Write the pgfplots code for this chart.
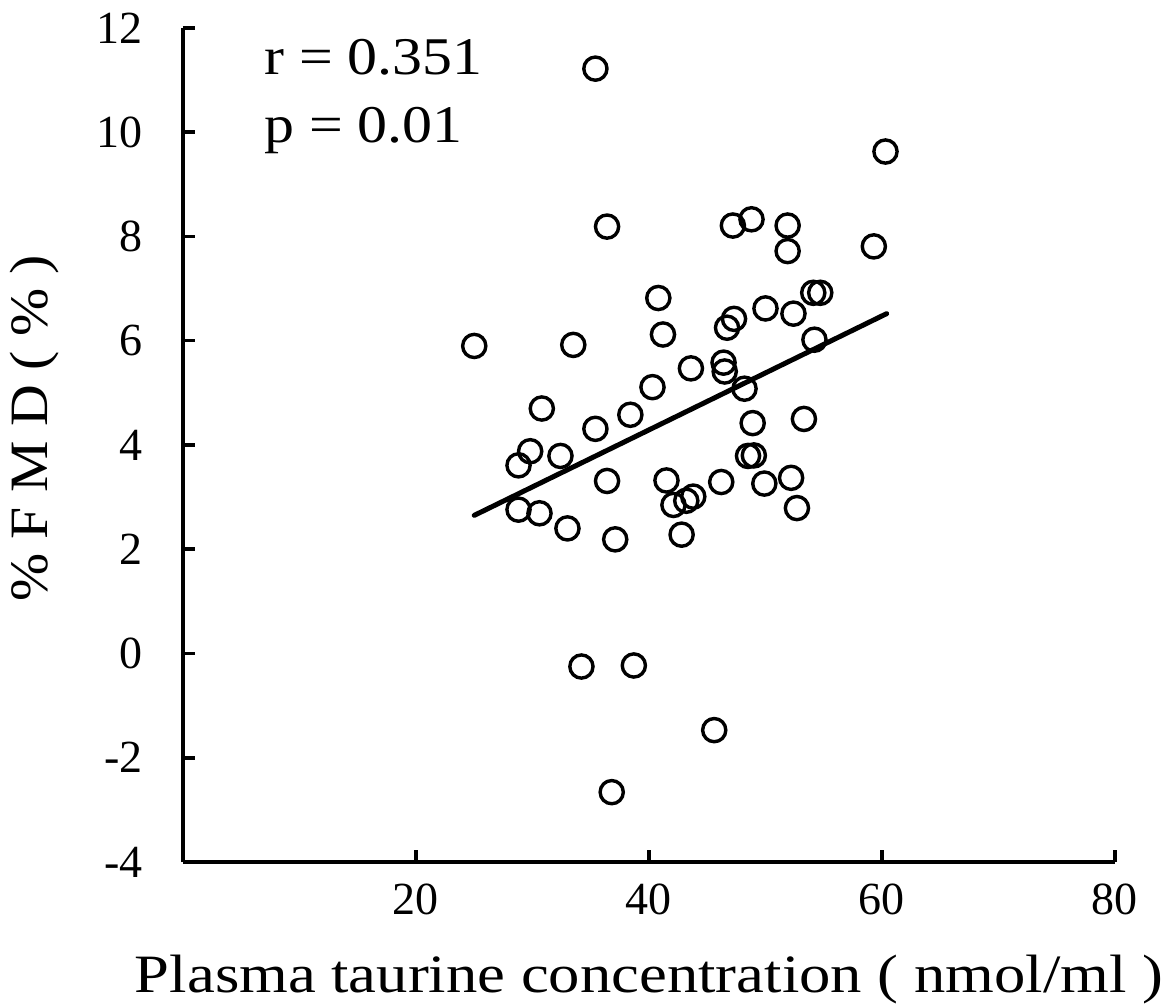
\documentclass[border=0pt]{standalone}
\usepackage{fontspec}
\setmainfont{Liberation Serif}
\newfontfamily\xlabfont[FakeStretch=1.16]{Liberation Serif}
\newfontfamily\ylabfont[FakeStretch=1.07]{Liberation Serif}
\newfontfamily\rpfont[FakeStretch=1.13]{Liberation Serif}
\usepackage{pgfplots}
\pgfplotsset{compat=1.18}
\begin{document}
\begin{tikzpicture}
\begin{axis}[
  scale only axis, width=466pt, height=417pt,
  xmin=0, xmax=80, ymin=-4, ymax=12,
  axis x line*=bottom, axis y line*=left,
  axis line style={line width=1.75pt, -},
  xtick={20,40,60,80}, ytick={-4,-2,0,2,4,6,8,10,12},
  tick align=inside, major tick length=6pt,
  every tick/.style={line width=1.75pt, black},
  /pgf/number format/assume math mode=true,
  tick label style={font=\fontsize{23}{26}\selectfont},
  yticklabel style={inner xsep=0pt, xshift=-20pt},
  xticklabel style={inner ysep=0pt, yshift=-11pt},
  xlabel={\xlabfont Plasma taurine concentration ( nmol/ml )},
  ylabel={\ylabfont \% F M D ( \% )},
  label style={font=\fontsize{27}{30}\selectfont, inner sep=0pt},
  xlabel style={at={(axis description cs:0.5,0)}, anchor=base, yshift=-65pt},
  ylabel style={at={(axis description cs:-0.145,0.52)}, anchor=base},
  clip=false,
]
\addplot[only marks, mark=o, mark size=5.8pt, mark options={line width=1.7pt, black}] coordinates {
(25.0,5.90) (28.8,3.61) (28.8,2.76) (29.8,3.88) (30.8,4.70) (30.6,2.69)
(32.4,3.79) (33.0,2.40) (33.5,5.92) (35.4,11.22) (35.4,4.31) (34.2,-0.25)
(36.4,3.31) (36.4,8.19) (37.1,2.19) (36.8,-2.66) (38.4,4.58) (38.7,-0.23)
(40.3,5.11) (40.8,6.82) (41.2,6.12) (41.5,3.32) (42.1,2.85) (42.8,2.28)
(43.2,2.93) (43.8,3.01) (43.6,5.47) (45.6,-1.47) (46.2,3.29) (46.7,6.25)
(47.3,6.42) (46.4,5.58) (46.5,5.41) (47.2,8.21) (48.8,8.33) (48.2,5.08)
(48.9,4.42) (48.5,3.79) (49.0,3.80) (49.9,3.26) (50.0,6.62) (51.9,8.21)
(51.9,7.72) (52.4,6.52) (52.2,3.37) (52.7,2.79) (53.3,4.50) (54.2,6.02)
(54.1,6.92) (54.7,6.92) (59.3,7.81) (60.3,9.63)
};
\addplot[black, line width=2.5pt, line cap=round] coordinates {(25.0,2.65) (60.4,6.52)};
\node[anchor=base west, inner sep=0pt, font=\rpfont\fontsize{26.5}{30}\selectfont] at (axis description cs:0.0869,0.944) {r = 0.351};
\node[anchor=base west, inner sep=0pt, font=\rpfont\fontsize{26.5}{30}\selectfont] at (axis description cs:0.0869,0.863) {p = 0.01};
\end{axis}
\path[use as bounding box] (-91.5pt,-72pt) rectangle (496.5pt,431pt);
\end{tikzpicture}
\end{document}
